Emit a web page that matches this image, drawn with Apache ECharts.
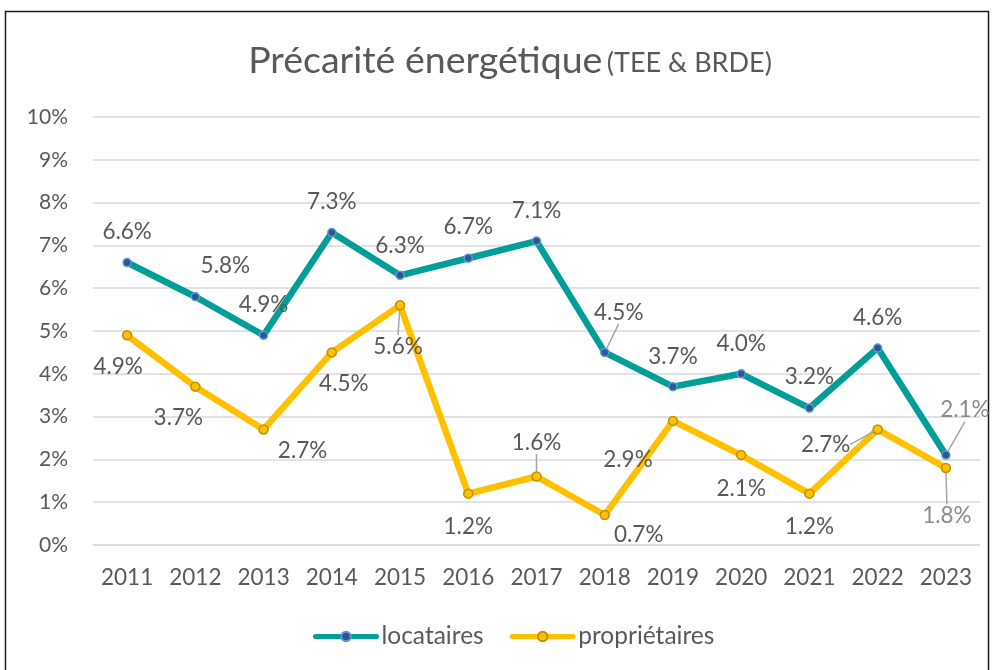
<!DOCTYPE html>
<html>
<head>
<meta charset="utf-8">
<script src="https://cdn.jsdelivr.net/npm/echarts@6/dist/echarts.min.js"></script>
<style>
  html, body { margin: 0; padding: 0; background: #fff; }
  #chart { width: 998px; height: 670px; }
</style>
</head>
<body>
<div id="chart"></div>
<script>
// values
var years = ['2011', '2012', '2013', '2014', '2015', '2016', '2017', '2018', '2019', '2020', '2021', '2022', '2023']
var locataires = [6.6, 5.8, 4.9, 7.3, 6.3, 6.7, 7.1, 4.5, 3.7, 4.0, 3.2, 4.6, 2.1]
var proprietaires = [4.9, 3.7, 2.7, 4.5, 5.6, 1.2, 1.6, 0.7, 2.9, 2.1, 1.2, 2.7, 1.8]

// where Excel put each data label, relative to its point (px)
var locLabelShift = [[0, -31], [30, -31], [0, -31], [0, -31], [0, -30], [0, -31], [0, -30], [14, -40], [0, -30], [0, -30], [0, -31], [0, -30], [19, -45]]
var propLabelShift = [[-9, 31], [-17, 31], [39, 21], [12, 31], [-2, 41], [0, 33], [0, -34], [34, 20], [-45, 39], [0, 34], [0, 33], [-52, 15], [1, 48]]
var locLeaders = [7, 12]
var propLeaders = [4, 6, 11, 12]

var font = 'Lato'
var grey = '#595959'

function items(values, leaders) {
  return values.map(function (v, i) {
    var d = { value: v, labelLine: { show: leaders.indexOf(i) >= 0 } }
    if (i === values.length - 1) d.label = { color: '#8c8c8c' }
    return d
  })
}

var myChart = echarts.init(document.getElementById('chart'), null, { renderer: 'canvas' })

myChart.setOption({
  animation: false,
  textStyle: { fontFamily: font },
  graphic: [{
    type: 'rect',
    shape: { x: 5.5, y: 11.5, width: 983, height: 700 },
    style: { fill: null, stroke: '#1a1a1a', lineWidth: 1.5 },
    silent: true
  }],
  title: {
    left: 505,
    top: 31,
    textAlign: 'center',
    text: '{a|Précarité énergétique} {b|(TEE & BRDE)}',
    textStyle: {
      rich: {
        a: { fontFamily: font, fontSize: 37.5, fontWeight: 'normal', color: grey, lineHeight: 44, verticalAlign: 'bottom' },
        b: { fontFamily: font, fontSize: 27, fontWeight: 'normal', color: grey, lineHeight: 44, verticalAlign: 'bottom', padding: [0, 0, 3, 0] }
      }
    }
  },
  legend: {
    bottom: 16,
    left: 308,
    itemWidth: 61,
    itemHeight: 12,
    itemGap: 26,
    lineStyle: { width: 5, cap: 'round' },
    textStyle: { fontFamily: font, fontSize: 24.5, color: grey },
    data: ['locataires', 'propriétaires']
  },
  grid: { left: 93, right: 18, top: 117, bottom: 125 },
  xAxis: {
    type: 'category',
    data: years,
    axisLine: { lineStyle: { color: '#d9d9d9', width: 1.5 } },
    axisTick: { show: false },
    axisLabel: { fontFamily: font, fontSize: 22.5, color: grey, margin: 21 }
  },
  yAxis: {
    type: 'value',
    min: 0,
    max: 10,
    interval: 1,
    axisLine: { show: false },
    axisTick: { show: false },
    splitLine: { lineStyle: { color: '#d9d9d9', width: 1.5 } },
    axisLabel: { fontFamily: font, fontSize: 21, color: grey, margin: 25, formatter: '{value}%' }
  },
  series: [
    {
      name: 'locataires',
      type: 'line',
      data: items(locataires, locLeaders),
      symbol: 'circle',
      symbolSize: 8,
      lineStyle: { color: '#009e96', width: 6.5, join: 'round' },
      itemStyle: { color: '#2f5597', borderColor: '#5b9bd5', borderWidth: 1.5 },
      label: {
        show: true,
        position: 'inside',
        fontFamily: font,
        fontSize: 22.5,
        color: grey,
        formatter: function (p) { return p.value.toFixed(1) + '%' }
      },
      labelLine: { lineStyle: { color: '#a6a6a6', width: 1.5 } },
      labelLayout: function (p) {
        var s = locLabelShift[p.dataIndex]
        return { dx: s[0], dy: s[1] }
      },
      z: 3
    },
    {
      name: 'propriétaires',
      type: 'line',
      data: items(proprietaires, propLeaders),
      symbol: 'circle',
      symbolSize: 9,
      lineStyle: { color: '#ffc000', width: 6.5, join: 'round' },
      itemStyle: { color: '#ffc000', borderColor: '#bf9000', borderWidth: 1.5 },
      label: {
        show: true,
        position: 'inside',
        fontFamily: font,
        fontSize: 22.5,
        color: grey,
        formatter: function (p) { return p.value.toFixed(1) + '%' }
      },
      labelLine: { lineStyle: { color: '#a6a6a6', width: 1.5 } },
      labelLayout: function (p) {
        var s = propLabelShift[p.dataIndex]
        return { dx: s[0], dy: s[1] }
      },
      z: 2
    }
  ]
})
</script>
</body>
</html>
